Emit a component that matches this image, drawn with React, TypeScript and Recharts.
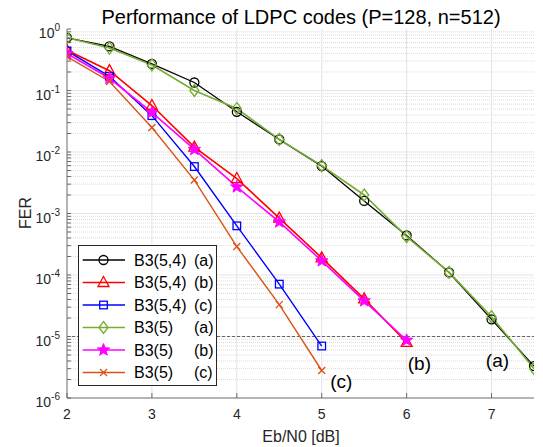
import React from 'react';
import { LineChart, Line, XAxis, YAxis, ReferenceLine, ReferenceDot, Legend } from 'recharts';

const FONT = "Arial, 'Liberation Sans', Helvetica, sans-serif";

// Eb/N0 values [dB]
const EBN0 = [2, 2.5, 3, 3.5, 4, 4.5, 5, 5.5, 6, 6.5, 7, 7.5];
// FER per series
const B354_A = [0.72, 0.52, 0.27, 0.135, 0.045, 0.016, 0.0059, 0.0016, 0.00044, 0.00011, 1.9e-5, 3.3e-6];
const B354_B = [0.45, 0.21, 0.057, 0.012, 0.0037, 0.00084, 0.00019, 4.1e-5, 8.0e-6];
const B354_C = [0.44, 0.17, 0.039, 0.0058, 0.00063, 7.1e-5, 7.0e-6];
const B5_A = [0.72, 0.49, 0.26, 0.1, 0.051, 0.016, 0.006, 0.002, 0.00042, 0.00011, 2.1e-5, 3.0e-6];
const B5_B = [0.4, 0.158, 0.044, 0.011, 0.0027, 0.00073, 0.00017, 3.8e-5, 8.7e-6];
const B5_C = [0.355, 0.14, 0.025, 0.0035, 0.00029, 3.3e-5, 2.8e-6];

const X_TICKS = [2, 3, 4, 5, 6, 7];
const Y_EXPONENTS = [-6, -5, -4, -3, -2, -1, 0];
const MINOR_MULTS = [2, 3, 4, 5, 6, 7, 8, 9];

const ANNOTATIONS = [
  { text: '(a)', x: 7.07, y: 4.1e-6 },
  { text: '(b)', x: 6.15, y: 3.7e-6 },
  { text: '(c)', x: 5.23, y: 1.85e-6 },
];

const SERIES = [
  { key: 'k', name: 'B3(5,4)', tag: '(a)', color: '#000000', shape: 'circle', values: B354_A, width: 1.3 },
  { key: 'r', name: 'B3(5,4)', tag: '(b)', color: '#FF0000', shape: 'triangle', values: B354_B, width: 1.6 },
  { key: 'b', name: 'B3(5,4)', tag: '(c)', color: '#0000FF', shape: 'square', values: B354_C, width: 1.4 },
  { key: 'g', name: 'B3(5)', tag: '(a)', color: '#77AC30', shape: 'diamond', values: B5_A, width: 1.6 },
  { key: 'm', name: 'B3(5)', tag: '(b)', color: '#FF00FF', shape: 'star', values: B5_B, width: 1.6 },
  { key: 'o', name: 'B3(5)', tag: '(c)', color: '#D95319', shape: 'x', values: B5_C, width: 1.4 },
];

const Y_MAJOR = Y_EXPONENTS.map((e) => Math.pow(10, e));
const Y_MINOR: number[] = [];
Y_EXPONENTS.slice(0, -1).forEach((e) => MINOR_MULTS.forEach((m) => Y_MINOR.push(m * Math.pow(10, e))));
const Y_ALL = [...Y_MAJOR, ...Y_MINOR].sort((a, b) => a - b);

function Marker({ shape, cx, cy, color }: any) {
  const sw = 1.3;
  if (cx == null || cy == null || isNaN(cx) || isNaN(cy)) return <g />;
  switch (shape) {
    case 'circle':
      return <circle cx={cx} cy={cy} r={4.5} fill="none" stroke={color} strokeWidth={sw} />;
    case 'triangle':
      return (
        <polygon
          points={`${cx},${cy - 6} ${cx - 5.5},${cy + 4} ${cx + 5.5},${cy + 4}`}
          fill="none"
          stroke={color}
          strokeWidth={sw}
        />
      );
    case 'square':
      return <rect x={cx - 3.8} y={cy - 3.8} width={7.6} height={7.6} fill="none" stroke={color} strokeWidth={sw} />;
    case 'diamond':
      return (
        <polygon
          points={`${cx},${cy - 6} ${cx + 4.5},${cy} ${cx},${cy + 6} ${cx - 4.5},${cy}`}
          fill="none"
          stroke={color}
          strokeWidth={sw}
        />
      );
    case 'star': {
      const pts: string[] = [];
      for (let i = 0; i < 10; i++) {
        const r = i % 2 === 0 ? 6.5 : 2.7;
        const a = -Math.PI / 2 + (i * Math.PI) / 5;
        pts.push(`${cx + r * Math.cos(a)},${cy + r * Math.sin(a)}`);
      }
      return <polygon points={pts.join(' ')} fill={color} stroke={color} strokeWidth={1} />;
    }
    case 'x':
      return (
        <g stroke={color} strokeWidth={sw}>
          <line x1={cx - 3.5} y1={cy - 3.5} x2={cx + 3.5} y2={cy + 3.5} />
          <line x1={cx - 3.5} y1={cy + 3.5} x2={cx + 3.5} y2={cy - 3.5} />
        </g>
      );
    default:
      return <g />;
  }
}

const YTick = (props: any) => {
  const { x, y, payload } = props;
  const v = payload.value;
  const e = Math.round(Math.log10(v));
  if (Math.abs(v - Math.pow(10, e)) / Math.pow(10, e) > 1e-6) return <g />;
  return (
    <text x={x} y={y + 9} textAnchor="end" fontSize={14} fill="#262626" fontFamily={FONT}>
      <tspan>10</tspan>
      <tspan dy={-7} fontSize={10}>{String(e)}</tspan>
    </text>
  );
};

const XTick = (props: any) => {
  const { x, y, payload } = props;
  return (
    <text x={x} y={y} dy="0.71em" textAnchor="middle" fontSize={14} fill="#262626" fontFamily={FONT}>
      {String(payload.value)}
    </text>
  );
};

const LegendBox = () => {
  const rowH = 22.5;
  return (
    <svg width={139} height={141} style={{ display: 'block' }}>
      <rect x={0.5} y={0.5} width={138} height={140} fill="#ffffff" stroke="#262626" strokeWidth={1} />
      {SERIES.map((s, i) => {
        const y = 15 + i * rowH;
        return (
          <g key={s.key}>
            <line x1={4.7} y1={y} x2={47} y2={y} stroke={s.color} strokeWidth={s.width} />
            <Marker shape={s.shape} cx={25.5} cy={y} color={s.color} />
            <text x={56} y={y + 5.5} fontSize={16} fill="#000" fontFamily={FONT}>
              {s.name}
            </text>
            <text x={116} y={y + 5.5} fontSize={16} fill="#000" fontFamily={FONT}>
              {s.tag}
            </text>
          </g>
        );
      })}
    </svg>
  );
};

const AXIS_COLOR = '#6a6a6a';

export default function App() {
  return (
    <div style={{ position: 'absolute', left: 0, top: 0, width: 543, height: 447, background: '#ffffff' }}>
      <LineChart width={543} height={447} margin={{ top: 29, right: 9, bottom: 19, left: 0 }}>
        <XAxis
          xAxisId="main"
          dataKey="x"
          type="number"
          domain={[2, 7.5]}
          ticks={X_TICKS}
          interval={0}
          allowDataOverflow
          height={30}
          tickSize={-5}
          tickMargin={16}
          tick={<XTick />}
          tickLine={{ stroke: AXIS_COLOR }}
          axisLine={{ stroke: AXIS_COLOR }}
        />
        <XAxis
          xAxisId="top"
          orientation="top"
          type="number"
          domain={[2, 7.5]}
          ticks={X_TICKS}
          interval={0}
          allowDataOverflow
          height={0}
          tickSize={-5}
          tick={false}
          tickLine={{ stroke: AXIS_COLOR }}
          axisLine={{ stroke: AXIS_COLOR }}
        />
        <YAxis
          yAxisId="main"
          type="number"
          scale="log"
          domain={[1e-6, 1]}
          ticks={Y_ALL}
          interval={0}
          allowDataOverflow
          width={67}
          tickSize={-4}
          tickMargin={11}
          tick={<YTick />}
          tickLine={{ stroke: AXIS_COLOR }}
          axisLine={{ stroke: AXIS_COLOR }}
        />
        <YAxis
          yAxisId="right"
          orientation="right"
          type="number"
          scale="log"
          domain={[1e-6, 1]}
          ticks={Y_ALL}
          interval={0}
          allowDataOverflow
          width={0}
          tickSize={-4}
          tick={false}
          tickLine={{ stroke: AXIS_COLOR }}
          axisLine={{ stroke: AXIS_COLOR }}
        />

        {Y_MINOR.map((v) => (
          <ReferenceLine
            key={`ym-${v}`}
            xAxisId="main"
            yAxisId="main"
            y={v}
            stroke="#dcdcdc"
            strokeDasharray="1 1"
            strokeWidth={1}
          />
        ))}
        {Y_MAJOR.slice(1, -1).map((v) => (
          <ReferenceLine key={`yM-${v}`} xAxisId="main" yAxisId="main" y={v} stroke="#e3e3e3" strokeWidth={1} />
        ))}
        {X_TICKS.slice(1).map((v) => (
          <ReferenceLine key={`xM-${v}`} xAxisId="main" yAxisId="main" x={v} stroke="#e3e3e3" strokeWidth={1} />
        ))}
        <ReferenceLine xAxisId="main" yAxisId="main" y={1e-5} stroke="#444" strokeDasharray="3 2" strokeWidth={0.8} />

        {SERIES.map((s) => (
          <Line
            key={s.key}
            xAxisId="main"
            yAxisId="main"
            data={s.values.map((v, i) => ({ x: EBN0[i], y: v }))}
            dataKey="y"
            type="linear"
            stroke={s.color}
            strokeWidth={s.width}
            isAnimationActive={false}
            dot={(p: any) => <Marker key={`${s.key}-${p.index}`} shape={s.shape} cx={p.cx} cy={p.cy} color={s.color} />}
            activeDot={false}
          />
        ))}

        {ANNOTATIONS.map((a) => (
          <ReferenceDot
            key={a.text}
            xAxisId="main"
            yAxisId="main"
            x={a.x}
            y={a.y}
            r={0}
            fill="none"
            stroke="none"
            label={{ value: a.text, position: 'center', fontSize: 19, fill: '#000', fontFamily: FONT }}
          />
        ))}

        <Legend
          layout="vertical"
          align="center"
          verticalAlign="middle"
          wrapperStyle={{ left: 78, top: 245, width: 139, height: 141 }}
          content={() => <LegendBox />}
        />
      </LineChart>
      <svg
        width={543}
        height={447}
        style={{ position: 'absolute', left: 0, top: 0, pointerEvents: 'none' }}
      >
        <text x={301} y={23.5} textAnchor="middle" fontSize={20} fill="#000" fontFamily={FONT}>
          Performance of LDPC codes (P=128, n=512)
        </text>
        <text x={301} y={442} textAnchor="middle" fontSize={16} fill="#262626" fontFamily={FONT}>
          Eb/N0 [dB]
        </text>
        <text
          x={31}
          y={213}
          textAnchor="middle"
          fontSize={16}
          fill="#262626"
          fontFamily={FONT}
          transform="rotate(-90 31 213)"
        >
          FER
        </text>
      </svg>
    </div>
  );
}
